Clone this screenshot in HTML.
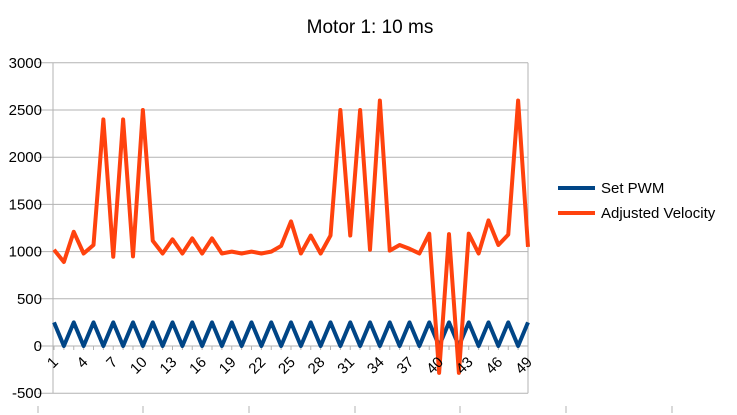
<!DOCTYPE html>
<html><head><meta charset="utf-8"><style>
body{margin:0;background:#fff;}
svg{display:block;font-family:"Liberation Sans",sans-serif;}
</style></head><body>
<svg id="chart" width="737" height="415">
<text x="370" y="33" font-size="19" text-anchor="middle" fill="#000">Motor 1: 10 ms</text>
<g id="grid"></g><g id="series"></g><g id="labels"></g>
<g>
<line x1="558" y1="188" x2="595" y2="188" stroke="#004586" stroke-width="4"/>
<text x="601" y="193" font-size="15">Set PWM</text>
<line x1="558" y1="213" x2="595" y2="213" stroke="#ff420e" stroke-width="4"/>
<text x="601" y="218" font-size="15">Adjusted Velocity</text>
</g>
</svg>
<script>
const categories = Array.from({length:49},(_,i)=>i+1);
const setPwm = [250,0,250,0,250,0,250,0,250,0,250,0,250,0,250,0,250,0,250,0,250,0,250,0,250,0,250,0,250,0,250,0,250,0,250,0,250,0,250,0,250,0,250,0,250,0,250,0,250];
const adjustedVelocity = [1020,890,1210,980,1070,2400,945,2400,950,2500,1115,980,1130,980,1140,980,1140,980,1000,980,1000,980,1000,1060,1320,980,1170,980,1170,2500,1170,2500,1020,2600,1010,1070,1030,980,1190,-285,1185,-285,1190,980,1330,1070,1180,2600,1050];
const yTicks = [-500,0,500,1000,1500,2000,2500,3000];
const xLabelEvery = 3;
const NS="http://www.w3.org/2000/svg";
const X0=54,X1=528,Y0=346,PER=47.2/500;
const xs=i=>X0+(X1-X0)*i/(categories.length-1);
const ys=v=>Y0-v*PER;
function mk(tag,attrs,parent){const e=document.createElementNS(NS,tag);for(const k in attrs)e.setAttribute(k,attrs[k]);parent.appendChild(e);return e;}
const grid=document.getElementById('grid'),ser=document.getElementById('series'),lab=document.getElementById('labels');
yTicks.forEach(t=>{
  const l=mk('line',{x1:38,x2:528,y1:ys(t),y2:ys(t),stroke:'#b3b3b3','stroke-width':1},grid);
  
  
  const tx=mk('text',{x:42,y:ys(t)+5,'font-size':15,'text-anchor':'end'},lab);
  tx.textContent=t;
  
  
});
const ax=mk('line',{x1:53,x2:53,y1:ys(3000),y2:ys(-500),stroke:'#b3b3b3'},grid);


const rb=mk('line',{x1:528,x2:528,y1:ys(3000),y2:ys(-500),stroke:'#b3b3b3'},grid);


categories.forEach((c,i)=>{
  const tk=mk('line',{x1:xs(i),x2:xs(i),y1:Y0,y2:Y0+4,stroke:'#b3b3b3'},grid);
  
  
  if(i%xLabelEvery===0){
    const x=xs(i),y=Y0+12;
    const t=mk('text',{x:x+5,y:y+5,'font-size':15,'text-anchor':'end',transform:`rotate(-45 ${x+5} ${y+5})`},lab);
    t.textContent=c;
    
    
  }
});
[38,143,249,355,460,566,672].forEach(x=>{
  const m=mk('line',{x1:x,x2:x,y1:406,y2:413,stroke:'#b3b3b3'},grid);
  
  
});
const p1=mk('polyline',{points:setPwm.map((v,i)=>xs(i)+','+ys(v)).join(' '),fill:'none',stroke:'#004586','stroke-width':4,'stroke-linejoin':'round'},ser);


const p2=mk('polyline',{points:adjustedVelocity.map((v,i)=>xs(i)+','+ys(v)).join(' '),fill:'none',stroke:'#ff420e','stroke-width':4,'stroke-linejoin':'round'},ser);


</script>
</body></html>
